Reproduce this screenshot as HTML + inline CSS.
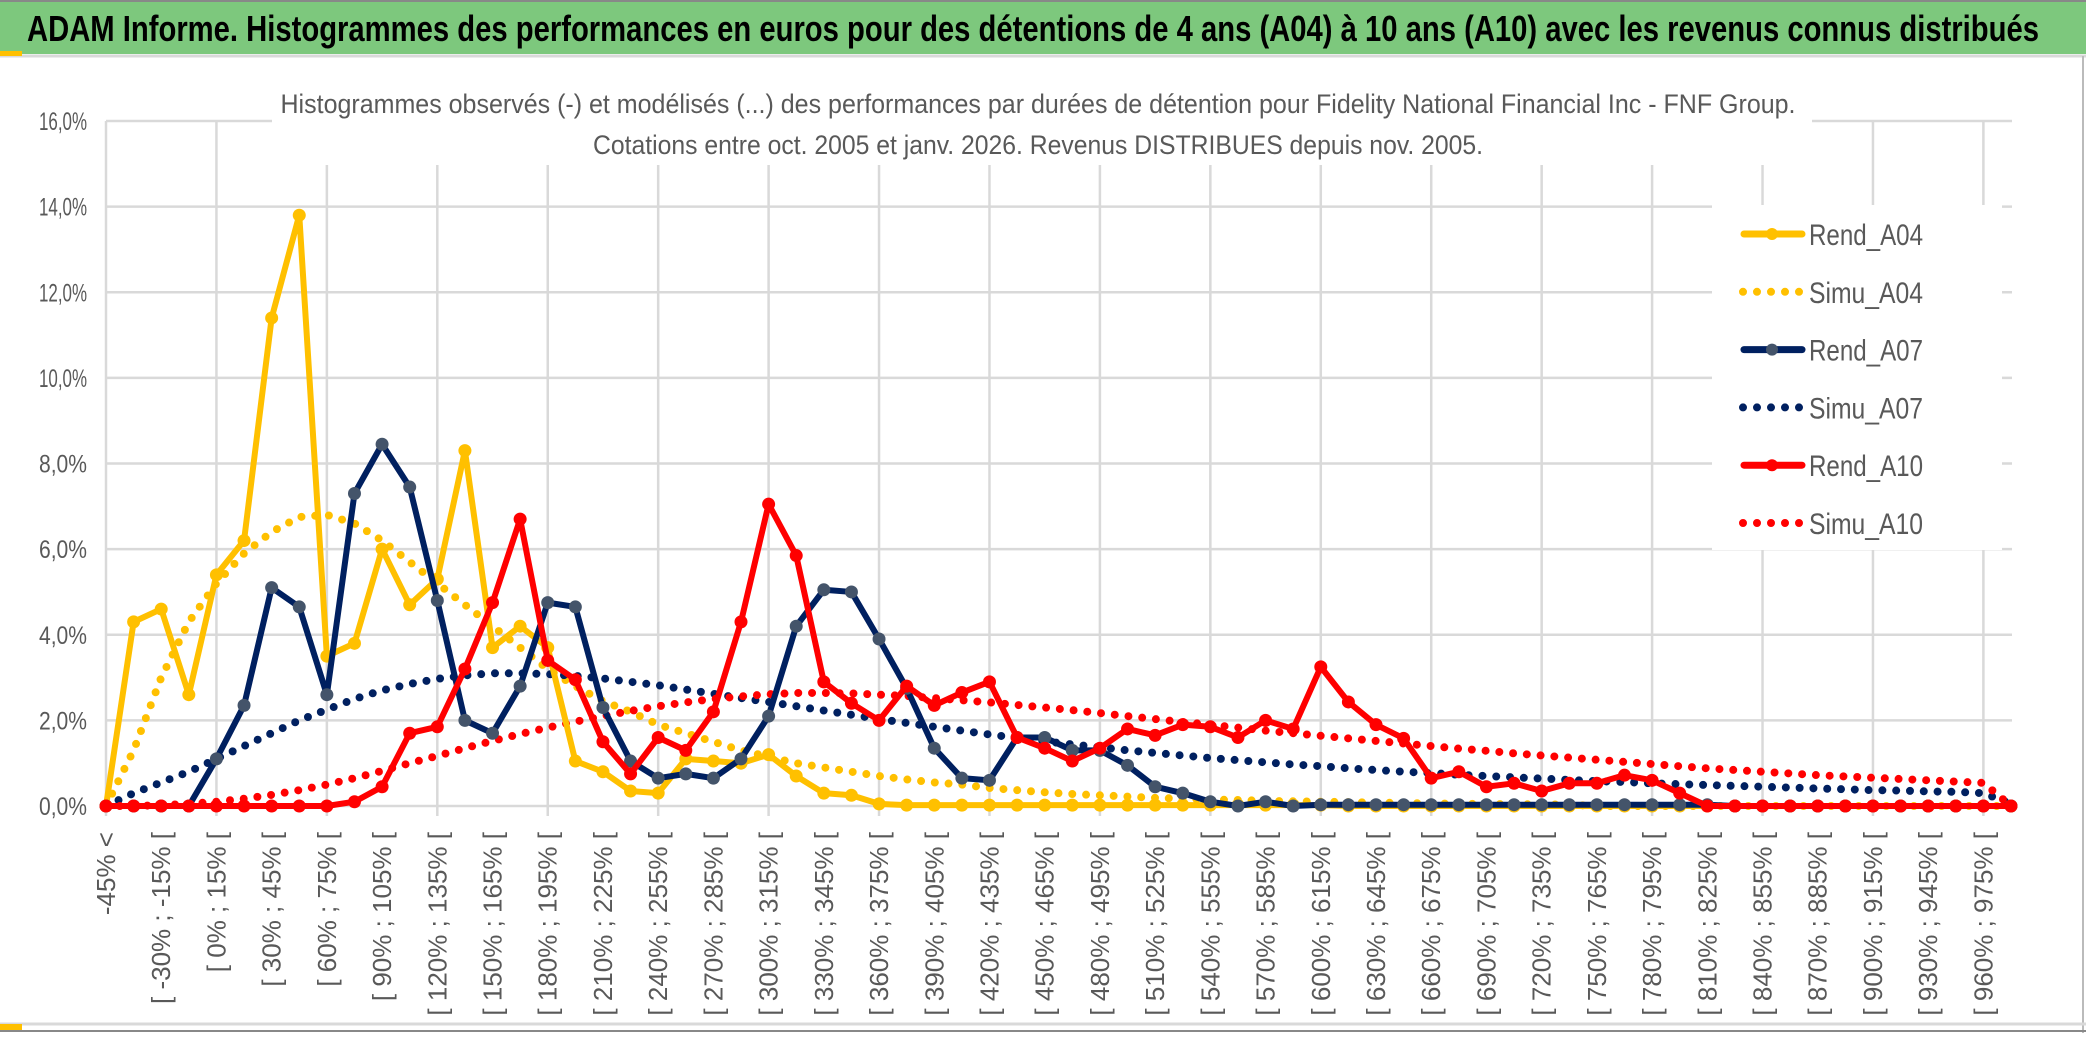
<!DOCTYPE html>
<html><head><meta charset="utf-8">
<style>
body{margin:0;width:2086px;height:1033px;background:#fff;overflow:hidden;font-family:"Liberation Sans",sans-serif}
</style></head>
<body>
<svg id="chart" width="2086" height="1033" xmlns="http://www.w3.org/2000/svg">
<rect x="0" y="0" width="2086" height="54" fill="#7dc87d"/>
<rect x="0" y="0" width="2086" height="2" fill="#888"/>
<line x1="0" y1="56" x2="2086" y2="56" stroke="#d9d9d9" stroke-width="3"/>
<rect x="0" y="51" width="22" height="5" fill="#ffc000"/>
<line x1="2083" y1="56" x2="2083" y2="1033" stroke="#bbb" stroke-width="2"/>
<line x1="0" y1="1024" x2="2086" y2="1024" stroke="#d9d9d9" stroke-width="3"/>
<line x1="0" y1="1031" x2="2086" y2="1031" stroke="#888" stroke-width="2"/>
<rect x="0" y="1024" width="22" height="6" fill="#ffc000"/>
<text x="27" y="41" font-family="'Liberation Sans Narrow','Liberation Sans',sans-serif" font-size="36" font-weight="bold" fill="#000" textLength="2012" lengthAdjust="spacingAndGlyphs">ADAM Informe. Histogrammes des performances en euros pour des détentions de 4 ans (A04) à 10 ans (A10) avec les revenus connus distribués</text>
<g id="grid"></g>
<rect x="272" y="85" width="1540" height="80" fill="#fff"/>
<text x="1038" y="113" text-anchor="middle" font-size="27" fill="#595959" textLength="1515" lengthAdjust="spacingAndGlyphs">Histogrammes observés (-) et modélisés (...) des performances par durées de détention pour Fidelity National Financial Inc - FNF Group.</text>
<text x="1038" y="154" text-anchor="middle" font-size="27" fill="#595959" textLength="890" lengthAdjust="spacingAndGlyphs">Cotations entre oct. 2005 et janv. 2026. Revenus DISTRIBUES depuis nov. 2005.</text>
<g id="axes"></g>
<g id="series"></g>
<g id="legend"></g>
</svg>
<script>
const tickLabels=["-45% <","[ -30% ; -15% [","[ 0% ; 15% [","[ 30% ; 45% [","[ 60% ; 75% [","[ 90% ; 105% [","[ 120% ; 135% [","[ 150% ; 165% [","[ 180% ; 195% [","[ 210% ; 225% [","[ 240% ; 255% [","[ 270% ; 285% [","[ 300% ; 315% [","[ 330% ; 345% [","[ 360% ; 375% [","[ 390% ; 405% [","[ 420% ; 435% [","[ 450% ; 465% [","[ 480% ; 495% [","[ 510% ; 525% [","[ 540% ; 555% [","[ 570% ; 585% [","[ 600% ; 615% [","[ 630% ; 645% [","[ 660% ; 675% [","[ 690% ; 705% [","[ 720% ; 735% [","[ 750% ; 765% [","[ 780% ; 795% [","[ 810% ; 825% [","[ 840% ; 855% [","[ 870% ; 885% [","[ 900% ; 915% [","[ 930% ; 945% [","[ 960% ; 975% ["];
const yTicks=[0,2,4,6,8,10,12,14,16];
const rendA04=[0,4.3,4.6,2.6,5.4,6.2,11.4,13.8,3.5,3.8,6.0,4.7,5.3,8.3,3.7,4.2,3.7,1.05,0.8,0.35,0.3,1.1,1.05,1.0,1.2,0.7,0.3,0.25,0.05,0.02,0.02,0.02,0.02,0.02,0.02,0.02,0.02,0.02,0.02,0.02,0.02,0.02,0.02,0.02,0.02,0,0,0,0,0,0,0,0,0,0,0,0,0,0,0,0,0,0,0,0,0,0,0,0,0];
const simuA04=[0,1.3,3.0,4.3,5.2,5.9,6.4,6.75,6.8,6.6,6.2,5.7,5.2,4.7,4.2,3.7,3.2,2.8,2.45,2.2,1.9,1.7,1.5,1.3,1.15,1.0,0.9,0.8,0.7,0.62,0.55,0.5,0.42,0.37,0.32,0.28,0.25,0.22,0.19,0.17,0.15,0.14,0.12,0.11,0.1,0.09,0.08,0.07,0.06,0.05,0.05,0.04,0.04,0.03,0,0,0,0,0,0,0,0,0,0,0,0,0,0,0,0];
const rendA07=[0,0,0,0,1.1,2.35,5.1,4.65,2.6,7.3,8.45,7.45,4.8,2.0,1.7,2.8,4.75,4.65,2.3,1.05,0.65,0.75,0.65,1.1,2.1,4.2,5.05,5.0,3.9,2.75,1.35,0.65,0.6,1.6,1.6,1.3,1.3,0.95,0.45,0.3,0.1,0.0,0.1,0.0,0.03,0.03,0.03,0.03,0.03,0.03,0.03,0.03,0.03,0.03,0.03,0.03,0.03,0.03,0.03,0,0,0,0,0,0,0,0,0,0,0];
const simuA07=[0,0.3,0.55,0.8,1.1,1.4,1.7,2.0,2.25,2.5,2.7,2.85,2.97,3.05,3.1,3.1,3.08,3.04,2.98,2.9,2.82,2.72,2.62,2.52,2.43,2.33,2.23,2.13,2.03,1.94,1.85,1.76,1.67,1.59,1.51,1.44,1.37,1.3,1.24,1.18,1.12,1.07,1.02,0.97,0.93,0.88,0.84,0.8,0.77,0.73,0.7,0.67,0.64,0.61,0.58,0.56,0.53,0.51,0.49,0.47,0.45,0.43,0.41,0.39,0.37,0.36,0.34,0.33,0.3,0.05];
const rendA10=[0,0,0,0,0,0,0,0,0,0.1,0.45,1.7,1.85,3.2,4.75,6.7,3.4,2.95,1.5,0.75,1.6,1.3,2.2,4.3,7.05,5.85,2.9,2.4,2.0,2.8,2.35,2.65,2.9,1.6,1.35,1.05,1.35,1.8,1.65,1.9,1.85,1.6,2.0,1.8,3.25,2.43,1.9,1.58,0.65,0.8,0.45,0.53,0.35,0.53,0.53,0.72,0.6,0.3,0,0,0,0,0,0,0,0,0,0,0,0];
const simuA10=[0,0,0.02,0.05,0.1,0.17,0.26,0.37,0.5,0.65,0.82,1.0,1.17,1.35,1.52,1.68,1.83,1.97,2.1,2.22,2.33,2.42,2.5,2.56,2.61,2.64,2.64,2.63,2.6,2.57,2.52,2.47,2.42,2.36,2.3,2.24,2.17,2.1,2.03,1.96,1.9,1.83,1.76,1.7,1.64,1.58,1.52,1.46,1.4,1.34,1.29,1.23,1.18,1.13,1.08,1.03,0.98,0.93,0.88,0.84,0.8,0.76,0.72,0.69,0.66,0.63,0.6,0.57,0.54,0];

const NS="http://www.w3.org/2000/svg";
const X0=106,X1=2011,Y0=806,Y16=121,N=70;
const xs=i=>X0+i*(X1-X0)/(N-1);
const ys=v=>Y0-v*(Y0-Y16)/16;
function mk(tag,attrs,parent){const e=document.createElementNS(NS,tag);for(const k in attrs)e.setAttribute(k,attrs[k]);parent.appendChild(e);return e;}
const grid=document.getElementById('grid'),axes=document.getElementById('axes'),ser=document.getElementById('series'),leg=document.getElementById('legend');
yTicks.forEach(t=>{
  const l=mk('line',{x1:X0,x2:X1+1,y1:ys(t),y2:ys(t),stroke:'#d9d9d9','stroke-width':2.5},grid);
  
  
  const tx=mk('text',{x:87,y:ys(t)+9,'text-anchor':'end','font-size':25,fill:'#595959',textLength:48,lengthAdjust:'spacingAndGlyphs'},axes);
  
  
  tx.textContent=t.toFixed(1).replace('.',',')+'%';
});
for(let i=0;i<N;i+=4){
  const l=mk('line',{x1:xs(i),x2:xs(i),y1:Y16,y2:Y0+10,stroke:'#d9d9d9','stroke-width':2.5},grid);
  
  
}
tickLabels.forEach((s,k)=>{
  const x=xs(k*2)+9;
  const tx=mk('text',{x:x,y:832,'text-anchor':'end','font-size':26,fill:'#595959',transform:`rotate(-90 ${x} 832)`},axes);
  
  
  tx.textContent=s;
});
function pts(a){return a.map((v,i)=>xs(i)+','+ys(v)).join(' ');}
function dotted(a,color,name){
  const p=mk('polyline',{points:pts(a),fill:'none',stroke:color,'stroke-width':8,'stroke-dasharray':'0 13.8','stroke-linecap':'round'},ser);
  
  
}
function solid(a,color,mcolor,name){
  const p=mk('polyline',{points:pts(a),fill:'none',stroke:color,'stroke-width':6,'stroke-linejoin':'round'},ser);
  
  
  a.forEach((v,i)=>{
    const c=mk('circle',{cx:xs(i),cy:ys(v),r:6.5,fill:mcolor},ser);
    
    
  });
}
dotted(simuA04,'#ffc000','simu-a04-line');
dotted(simuA07,'#002060','simu-a07-line');
dotted(simuA10,'#ff0000','simu-a10-line');
solid(rendA04,'#ffc000','#ffc000','rend-a04-line');
solid(rendA07,'#002060','#44546a','rend-a07-line');
solid(rendA10,'#ff0000','#ff0000','rend-a10-line');
const lb=mk('rect',{x:1712,y:205,width:290,height:345,fill:'#fff'},leg);


const entries=[["Rend_A04",'#ffc000','#ffc000',false],["Simu_A04",'#ffc000',null,true],["Rend_A07",'#002060','#44546a',false],["Simu_A07",'#002060',null,true],["Rend_A10",'#ff0000','#ff0000',false],["Simu_A10",'#ff0000',null,true]];
entries.forEach((e,k)=>{
  const y=234+k*57.8;
  const g=mk('g',{},leg);
  
  
  if(e[3]){mk('line',{x1:1743,x2:1800,y1:y,y2:y,stroke:e[1],'stroke-width':8,'stroke-dasharray':'0 14','stroke-linecap':'round'},g);}
  else{mk('line',{x1:1744,x2:1802,y1:y,y2:y,stroke:e[1],'stroke-width':7,'stroke-linecap':'round'},g);mk('circle',{cx:1772,cy:y,r:6,fill:e[2]},g);}
  const t=mk('text',{x:1809,y:y+11,'font-size':30,fill:'#595959',textLength:114,lengthAdjust:'spacingAndGlyphs'},g);
  t.textContent=e[0];
});
</script>
</body></html>
